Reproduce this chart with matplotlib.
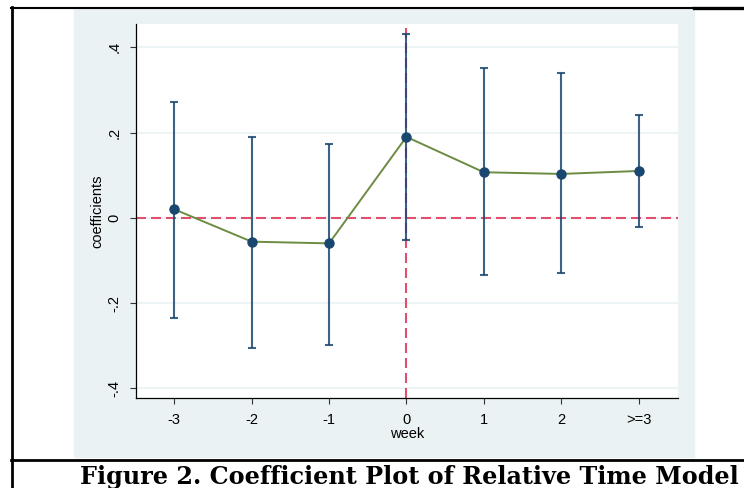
import numpy as np
import matplotlib
matplotlib.use("Agg")
from matplotlib import pyplot as plt
from matplotlib.lines import Line2D

# data
weeks = ["-3", "-2", "-1", "0", "1", "2", ">=3"]
coef = [0.020, -0.056, -0.060, 0.190, 0.107, 0.103, 0.110]
ci_low = [-0.236, -0.306, -0.299, -0.052, -0.135, -0.130, -0.022]
ci_high = [0.272, 0.190, 0.173, 0.432, 0.352, 0.340, 0.241]
yticks = [-0.4, -0.2, 0, 0.2, 0.4]
ytick_labels = ["-.4", "-.2", "0", ".2", ".4"]

navy = "#1a476f"
green = "#6b8c42"
red = "#e0506e"
bg = "#eaf2f3"

plt.rcParams["font.family"] = ["Liberation Sans", "DejaVu Sans"]

fig = plt.figure(figsize=(7.44, 4.88), dpi=100)
W, H = 744, 488

# light blue panel behind the graph
fig.patches.append(plt.Rectangle((74 / W, 1 - 457 / H), 620 / W, 449 / H,
                                 transform=fig.transFigure, color=bg, zorder=-5))

# table borders
def hline(y, x0, x1, lw):
    fig.add_artist(Line2D([x0 / W, x1 / W], [1 - y / H, 1 - y / H], color="black", lw=lw,
                          transform=fig.transFigure))

hline(7.5, 11, 694, 1.5)
hline(7.8, 694, 744, 2.4)
hline(460, 11, 744, 2.0)
fig.add_artist(Line2D([11.5 / W, 11.5 / W], [1 - 7 / H, 0], color="black", lw=2.0,
                      transform=fig.transFigure))

ax = fig.add_axes([136 / W, 1 - 398 / H, (678 - 136) / W, (398 - 24) / H])
ax.set_zorder(2)
ax.set_facecolor("white")
x = np.arange(len(weeks))
ax.set_xlim(-0.495, 6.51)
ax.set_ylim(-0.423, 0.455)

for yv in yticks:
    ax.axhline(yv, color=bg, lw=1.2, zorder=0)

ax.axhline(0, color=red, lw=1.5, dashes=(4.8, 2.4), zorder=1)
ax.axvline(3, color=red, lw=1.5, dashes=(4.8, 2.4), zorder=1)

yerr = [np.array(coef) - np.array(ci_low), np.array(ci_high) - np.array(coef)]
ax.errorbar(x, coef, yerr=yerr, fmt="none", ecolor=navy, elinewidth=1.5,
            capsize=3, capthick=1.5, zorder=2, alpha=0.85)
ax.plot(x, coef, color=green, lw=1.4, zorder=3)
ax.plot(x, coef, "o", color=navy, ms=6.5, zorder=4)

ax.set_xticks(x)
ax.set_xticklabels(weeks, fontsize=10.5)
ax.set_yticks(yticks)
ax.set_yticklabels(ytick_labels, fontsize=10.5, rotation=90, va="center")
ax.tick_params(axis="both", direction="out", length=4.5, width=0.8, color="#333333")
ax.tick_params(axis="y", pad=6)
ax.tick_params(axis="x", pad=6)

for s in ["top", "right"]:
    ax.spines[s].set_visible(False)
ax.spines["left"].set_linewidth(0.9)
ax.spines["bottom"].set_linewidth(0.9)

ax.set_xlabel("week", fontsize=10.5, labelpad=0)
ax.set_ylabel("coefficients", fontsize=10.5, labelpad=2)

fig.text(80 / W, 1 - 484 / H, "Figure 2. Coefficient Plot of Relative Time Model",
         fontsize=17.2, fontweight="bold", family="DejaVu Serif", va="baseline")

fig.savefig("out.png", dpi=100)
